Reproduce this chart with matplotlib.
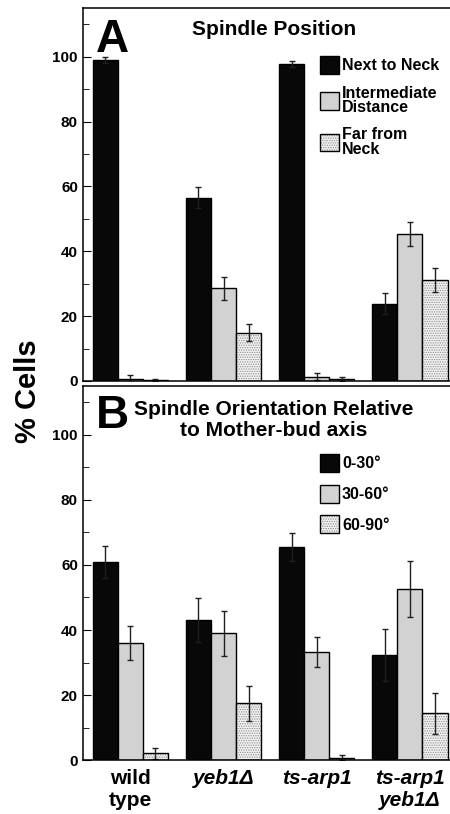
import numpy as np
import matplotlib
matplotlib.use("Agg")
import matplotlib.pyplot as plt

plt.rcParams["font.family"] = ["Liberation Sans", "DejaVu Sans"]
plt.rcParams["font.weight"] = "bold"
plt.rcParams["hatch.linewidth"] = 0.6

# strains (x groups)
strains = ["wild\ntype", "yeb1Δ", "ts-arp1", "ts-arp1\nyeb1Δ"]
strain_italic = [False, True, True, True]

# panel A: spindle position (% cells)
pos_labels = ["Next to Neck", "Intermediate\nDistance", "Far from\nNeck"]
pos_next = [99.1, 56.5, 97.8, 23.8]
pos_next_err = [0.9, 3.3, 1.0, 3.2]
pos_mid = [0.7, 28.6, 1.3, 45.3]
pos_mid_err = [1.0, 3.5, 1.0, 3.8]
pos_far = [0.2, 14.9, 0.6, 31.2]
pos_far_err = [0.3, 2.7, 0.7, 3.7]

# panel B: spindle orientation (% cells)
ori_labels = ["0-30°", "30-60°", "60-90°"]
ori_0_30 = [60.9, 43.0, 65.5, 32.2]
ori_0_30_err = [4.8, 6.7, 4.4, 8.0]
ori_30_60 = [36.1, 39.0, 33.2, 52.7]
ori_30_60_err = [5.2, 6.9, 4.7, 8.6]
ori_60_90 = [2.1, 17.5, 0.8, 14.4]
ori_60_90_err = [1.6, 5.4, 0.8, 6.2]

W = 0.269
x = np.arange(len(strains))


def draw_panel(ax, series, errs, labels, letter, title, title_y, leg_y, letter_y,
               leg_space):
    handles = []
    for i, (vals, err) in enumerate(zip(series, errs)):
        xs = x + (i - 1) * W
        if i == 0:
            b = ax.bar(xs, vals, W, color="#080808", edgecolor="black", linewidth=1)
            h = b.patches[0]
        elif i == 1:
            b = ax.bar(xs, vals, W, color="#d2d2d2", edgecolor="black", linewidth=1)
            h = b.patches[0]
        else:
            b1 = ax.bar(xs, vals, W, color="#f2f2f2", edgecolor="#8a8a8a",
                        hatch=".......", linewidth=0)
            b2 = ax.bar(xs, vals, W, fill=False, edgecolor="black", linewidth=1)
            h = (b1.patches[0], b2.patches[0])
        ax.errorbar(xs, vals, yerr=err, fmt="none", ecolor="#202020",
                    elinewidth=1, capsize=2, capthick=1)
        handles.append(h)

    ax.set_xlim(-0.51, 3.43)
    ax.set_ylim(0, 115)
    ax.set_yticks(np.arange(0, 101, 20))
    ax.set_yticks(np.arange(10, 115, 20), minor=True)
    ax.tick_params(axis="y", which="both", direction="in", labelsize=11)
    ax.tick_params(axis="y", which="major", length=6)
    ax.tick_params(axis="y", which="minor", length=4)
    ax.tick_params(axis="x", length=0)
    ax.spines["right"].set_visible(False)
    for s in ["left", "top", "bottom"]:
        ax.spines[s].set_linewidth(1.1)

    ax.text(0.035, letter_y, letter, transform=ax.transAxes, fontsize=33,
            fontweight="bold", ha="left", va="baseline")
    ax.text(0.52, title_y, title, transform=ax.transAxes, fontsize=15,
            fontweight="bold", ha="center", va="center", linespacing=1.1)

    leg = ax.legend(handles, labels, loc="upper left", bbox_to_anchor=(0.645, leg_y),
                    frameon=False, fontsize=11.5, handlelength=1.2, handleheight=1.35,
                    handletextpad=0.2, labelspacing=leg_space, borderpad=0,
                    borderaxespad=0)
    for t in leg.get_texts():
        t.set_linespacing(0.95)


fig = plt.figure(figsize=(4.5, 8.14), dpi=100)
axA = fig.add_axes([0.184, 0.532, 0.816, 0.458])
axB = fig.add_axes([0.184, 0.066, 0.816, 0.460])

draw_panel(axA, [pos_next, pos_mid, pos_far], [pos_next_err, pos_mid_err, pos_far_err],
           pos_labels, "A", "Spindle Position", 0.944, 0.872, 0.882, 0.75)
draw_panel(axB, [ori_0_30, ori_30_60, ori_60_90],
           [ori_0_30_err, ori_30_60_err, ori_60_90_err],
           ori_labels, "B", "Spindle Orientation Relative\nto Mother-bud axis",
           0.909, 0.818, 0.888, 0.8)

axA.set_xticks(x)
axA.set_xticklabels([])
axB.set_xticks(x)
axB.set_xticklabels(strains, fontsize=15, fontweight="bold", linespacing=1.25)
axB.tick_params(axis="x", pad=6)
for lab, it in zip(axB.get_xticklabels(), strain_italic):
    if it:
        lab.set_fontstyle("italic")

fig.text(0.063, 0.52, "% Cells", rotation=90, fontsize=21, fontweight="bold",
         ha="center", va="center")

fig.savefig("out.png", dpi=100, facecolor="white")
